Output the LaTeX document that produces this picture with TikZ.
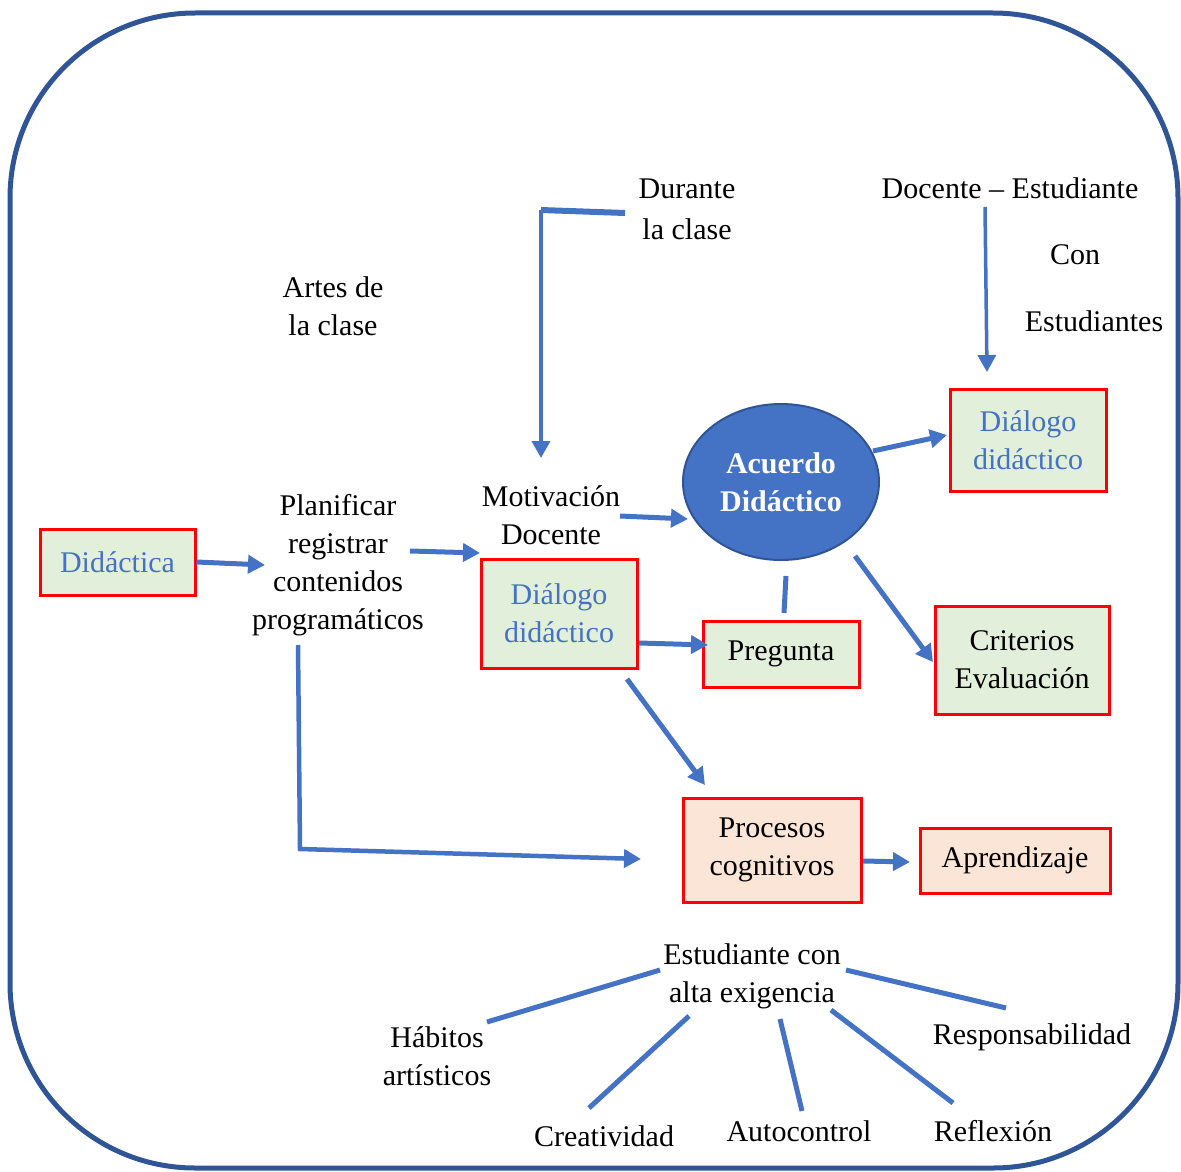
\documentclass[tikz,border=0pt]{standalone}
\usepackage{fontspec}
\setmainfont{Liberation Serif}
\usetikzlibrary{arrows.meta,shapes.geometric}

\definecolor{lineblue}{RGB}{68,114,196}
\definecolor{frameblue}{RGB}{47,85,151}
\definecolor{boxgreen}{RGB}{226,239,218}
\definecolor{boxpeach}{RGB}{251,229,214}
\definecolor{boxred}{RGB}{255,0,0}

\tikzset{
  txt/.style={align=center, inner sep=0pt, font=\fontsize{30}{38}\selectfont},
  box/.style={draw=boxred, line width=3pt, fill=boxgreen, align=center, inner sep=0pt,
              font=\fontsize{30}{38}\selectfont},
  peachbox/.style={box, fill=boxpeach},
  bluetxt/.style={text=lineblue},
  link/.style={draw=lineblue, line width=5pt},
  thinlink/.style={draw=lineblue, line width=3.5pt},
  arr/.style={-{Triangle[length=17pt,width=18pt]}},
}

\begin{document}
\begin{tikzpicture}[x=1pt,y=-1pt]
\useasboundingbox (0,0) rectangle (1181,1172);

% outer frame
\draw[frameblue, line width=5pt, rounded corners=185pt] (10,13) rectangle (1178,1168);

% free text labels
\node[txt] (durante) at (687,209) {Durante\\[3pt]la clase};
\node[txt] (docest) at (1010,188) {Docente -- Estudiante};
\node[txt] (con) at (1075,255) {Con};
\node[txt] (estudiantes) at (1094,321) {Estudiantes};
\node[txt] (artes) at (333,306) {Artes de\\la clase};
\node[txt] (planificar) at (338,565.5) {Planificar\\registrar\\contenidos\\programáticos};
\node[txt] (motivacion) at (551,515) {Motivación\\Docente};

% boxes
\node[box, bluetxt, minimum width=155pt, minimum height=66pt] (didactica) at (117.5,562) {Didáctica};
\node[box, bluetxt, minimum width=156pt, minimum height=109pt] (dialogoA) at (559,613.5) {Diálogo\\didáctico};
\node[box, bluetxt, minimum width=156pt, minimum height=102pt] (dialogoB) at (1028,440) {Diálogo\\didáctico};
\node[box, minimum width=156pt, minimum height=66pt] (pregunta) at (781,654) {Pregunta};
\node[box, minimum width=174pt, minimum height=108pt] (criterios) at (1022,660) {Criterios\\Evaluación};
\node[peachbox, minimum width=178pt, minimum height=104pt] (procesos) at (772,850) {Procesos\\cognitivos};
\node[peachbox, minimum width=190pt, minimum height=65pt] (aprendizaje) at (1015,860.5) {Aprendizaje};

% central ellipse
\node[ellipse, draw=frameblue, line width=2pt, fill=lineblue, text=white, inner sep=0pt,
      minimum width=196pt, minimum height=156pt, align=center,
      font=\fontsize{30}{38}\selectfont\bfseries] (acuerdo) at (781,482) {Acuerdo\\Didáctico};

% lower cluster
\node[txt] (estudiante) at (752,976) {Estudiante con\\alta exigencia};
\node[txt] (habitos) at (437,1056) {Hábitos\\artísticos};
\node[txt] (responsabilidad) at (1032,1037) {Responsabilidad};
\node[txt] (creatividad) at (604,1136) {Creatividad};
\node[txt] (autocontrol) at (799,1131) {Autocontrol};
\node[txt] (reflexion) at (993,1131) {Reflexión};

% connector end points
\coordinate (durOut) at (625,213);
\coordinate (durCorner) at (541,210);
\coordinate (motIn) at (541,458);
\coordinate (docOut) at (985,207);
\coordinate (diaBIn) at (987,372);
\coordinate (planIn) at (265,565);
\coordinate (planOut) at (410,551);
\coordinate (diaAIn) at (480,553);
\coordinate (motOut) at (620,516);
\coordinate (acuIn) at (688,519);
\coordinate (acuOutA) at (873,451);
\coordinate (diaBEnd) at (947,435);
\coordinate (acuOutB) at (855,556);
\coordinate (critIn) at (933,662);
\coordinate (acuOutC) at (786,576);
\coordinate (pregTop) at (784,613);
\coordinate (diaAOut) at (639,643);
\coordinate (pregIn) at (708,645);
\coordinate (diaAOutB) at (627,679);
\coordinate (procTop) at (705,785);
\coordinate (planDown) at (298,645);
\coordinate (planCorner) at (300,849);
\coordinate (procIn) at (641,859);
\coordinate (procOut) at (863,861);
\coordinate (aprIn) at (910,862);
\coordinate (estL) at (660,970);
\coordinate (habEnd) at (487,1022);
\coordinate (estR) at (846,970);
\coordinate (resEnd) at (1006,1008);
\coordinate (estC1) at (689,1016);
\coordinate (creEnd) at (589,1108);
\coordinate (estC2) at (780,1019);
\coordinate (autEnd) at (802,1111);
\coordinate (estC3) at (831,1010);
\coordinate (refEnd) at (953,1103);

% arrows
\draw[link, line width=6pt] (durOut) -- (durCorner);
\draw[thinlink, arr] (durCorner) -- (motIn);
\draw[thinlink, arr] (docOut) -- (diaBIn);
\draw[link, arr] (didactica.east) -- (planIn);
\draw[link, arr] (planOut) -- (diaAIn);
\draw[link, arr] (motOut) -- (acuIn);
\draw[link, arr] (acuOutA) -- (diaBEnd);
\draw[link, arr] (acuOutB) -- (critIn);
\draw[link] (acuOutC) -- (pregTop);
\draw[link, arr] (diaAOut) -- (pregIn);
\draw[link, arr] (diaAOutB) -- (procTop);
\draw[link, line width=4.5pt, arr] (planDown) -- (planCorner) -- (procIn);
\draw[link, arr] (procOut) -- (aprIn);

% spokes of the lower cluster
\draw[link] (estL) -- (habEnd);
\draw[link] (estR) -- (resEnd);
\draw[link] (estC1) -- (creEnd);
\draw[link] (estC2) -- (autEnd);
\draw[link] (estC3) -- (refEnd);
\end{tikzpicture}
\end{document}
